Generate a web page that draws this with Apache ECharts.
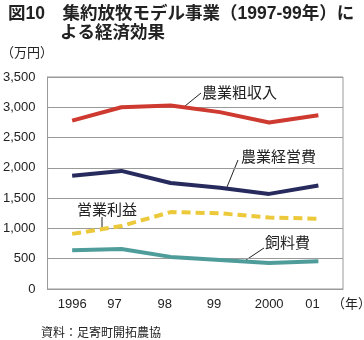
<!DOCTYPE html>
<html><head><meta charset="utf-8">
<script src="https://cdn.jsdelivr.net/npm/echarts@6.0.0/dist/echarts.min.js"></script>
<style>html,body{margin:0;padding:0;background:#fff}#c{width:364px;height:340px}</style>
</head><body><div id="c"></div>
<script>
// ---- data ----
const years = ['1996', '97', '98', '99', '2000', '01'];
const grossIncome = [2780, 3000, 3030, 2920, 2750, 2870];      // 農業粗収入
const operatingCost = [1870, 1950, 1750, 1670, 1570, 1710];    // 農業経営費
const operatingProfit = [910, 1040, 1270, 1250, 1180, 1160];   // 営業利益
const feedCost = [640, 660, 530, 480, 430, 460];               // 飼料費
const yMin = 0, yMax = 3500, yStep = 500;

// ---- style ----
const CJK = '"Noto Sans CJK JP", sans-serif';
const MIX = '"Liberation Sans", "Noto Sans CJK JP", sans-serif';
const labelShift = [0, -7, -6, -6, 0, -6];
const rich = {};
labelShift.forEach((d, i) => {
  rich['s' + i] = {
    fontFamily: MIX, fontSize: 13, color: '#222',
    padding: d < 0 ? [0, -2 * d, 0, 0] : [0, 0, 0, 2 * d]
  };
});

const chart = echarts.init(document.getElementById('c'), null, {renderer: 'canvas'});
const txt = (text, x, y, size, extra) => Object.assign({
  type: 'text', x: x, y: y, silent: true,
  style: Object.assign({text: text, font: size + 'px ' + CJK, fill: '#222', verticalAlign: 'middle', align: 'left'}, extra || {})
});
const ln = (x1, y1, x2, y2) => ({
  type: 'line', silent: true, shape: {x1, y1, x2, y2}, style: {stroke: '#222', lineWidth: 1}
});

chart.setOption({
  animation: false,
  backgroundColor: '#fff',
  grid: {left: 45, right: 21, top: 77, bottom: 51, show: true, borderColor: '#9a9a9a', borderWidth: 1, backgroundColor: 'transparent'},
  xAxis: {
    type: 'category', data: years, boundaryGap: true,
    axisLine: {lineStyle: {color: '#9a9a9a', width: 1}},
    axisTick: {show: false},
    axisLabel: {
      interval: 0,
      margin: 9,
      formatter: (v, i) => '{s' + i + '|' + v + '}',
      rich: rich
    }
  },
  yAxis: {
    type: 'value', min: yMin, max: yMax, interval: yStep,
    axisLine: {show: true, lineStyle: {color: '#9a9a9a', width: 1}},
    axisTick: {show: false},
    splitLine: {lineStyle: {color: '#9a9a9a', width: 1}},
    axisLabel: {
      margin: 12, fontFamily: '"Liberation Sans", sans-serif', fontSize: 13, color: '#222',
      formatter: v => v.toLocaleString('en-US')
    }
  },
  series: [
    {name: '農業粗収入', type: 'line', data: grossIncome, symbol: 'none',
     lineStyle: {color: '#cf3a30', width: 4}},
    {name: '農業経営費', type: 'line', data: operatingCost, symbol: 'none',
     lineStyle: {color: '#272a5c', width: 4}},
    {name: '営業利益', type: 'line', data: operatingProfit, symbol: 'none',
     lineStyle: {color: '#ecc93a', width: 4, type: [9, 5]}},
    {name: '飼料費', type: 'line', data: feedCost, symbol: 'none',
     lineStyle: {color: '#4f9d9b', width: 4}}
  ],
  graphic: [
    txt('図10　集約放牧モデル事業（1997-99年）に', 8, 14, 17.5, {font: 'bold 17.5px ' + MIX}),
    txt('よる経済効果', 60, 33, 17.5, {font: 'bold 17.5px ' + MIX}),
    txt('（万円）', 1, 52, 13),
    txt('（年）', 332, 303, 13),
    txt('資料：足寄町開拓農協', 41, 332, 12),
    txt('農業粗収入', 202, 92, 15),
    ln(185, 106, 201, 93),
    txt('農業経営費', 241, 156, 15),
    ln(227, 187, 238, 160),
    txt('営業利益', 77, 209, 15),
    ln(102, 217, 102, 230),
    txt('飼料費', 265, 242, 15),
    ln(246, 260, 264, 248)
  ]
});
</script>
</body></html>
